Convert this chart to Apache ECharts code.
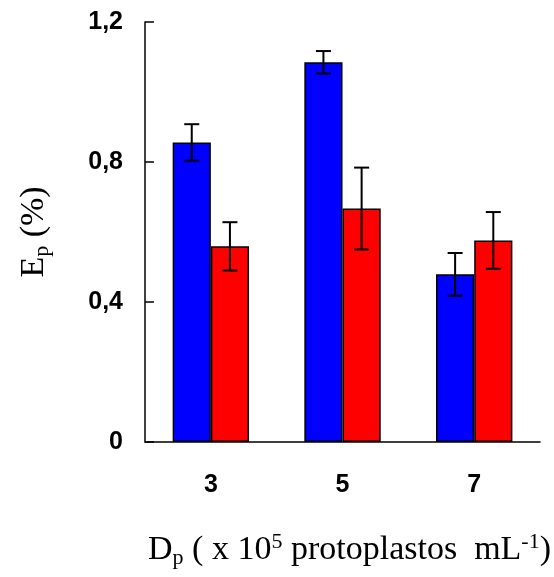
<!DOCTYPE html>
<html>
<head>
<meta charset="utf-8">
<script src="https://cdn.jsdelivr.net/npm/echarts@6/dist/echarts.min.js"></script>
<style>
html,body{margin:0;padding:0;background:#fff;}
#chart{width:554px;height:577px;}
</style>
</head>
<body>
<div id="chart"></div>
<script>
const categories = ['3', '5', '7'];
const blueMean = [0.856, 1.085, 0.479];
const blueErr = [0.052, 0.032, 0.061];
const redMean = [0.559, 0.667, 0.576];
const redErr = [0.069, 0.117, 0.081];
const yTicks = [0, 0.4, 0.8, 1.2];

const BAR_GAP = 0.42;
const barFrac = (1 - BAR_GAP) / 2;

function errData(means, errs) {
  return means.map((m, i) => [i, m - errs[i], m + errs[i]]);
}

function makeRender(sign) {
  return function (params, api) {
    const cat = api.value(0);
    const lo = api.value(1), hi = api.value(2);
    const band = api.size([1, 0])[0];
    const off = sign * band * barFrac / 2;
    const pTop = api.coord([cat, hi]);
    const pBot = api.coord([cat, lo]);
    const x = pTop[0] + off;
    const half = 7.5;
    const st = { stroke: '#000', lineWidth: 2 };
    return {
      type: 'group',
      children: [
        { type: 'line', shape: { x1: x, y1: pTop[1], x2: x, y2: pBot[1] }, style: st },
        { type: 'line', shape: { x1: x - half, y1: pTop[1], x2: x + half, y2: pTop[1] }, style: st },
        { type: 'line', shape: { x1: x - half, y1: pBot[1], x2: x + half, y2: pBot[1] }, style: st }
      ]
    };
  };
}

const chart = echarts.init(document.getElementById('chart'));
const serif = 'Liberation Serif';
const sans = 'Liberation Sans';
chart.setOption({
  animation: false,
  backgroundColor: '#fff',
  grid: { left: 145, right: 13, top: 22, bottom: 135, containLabel: false },
  xAxis: {
    type: 'category',
    data: categories,
    axisLine: { lineStyle: { color: '#000', width: 1.5 } },
    axisTick: { show: false },
    axisLabel: { color: '#000', fontFamily: sans, fontWeight: 'bold', fontSize: 25, margin: 31 },
    name: '{n|D}{sub|p}{n| ( x 10}{sup|5}{n| protoplastos  mL}{sup|-1}{n|)}',
    nameLocation: 'middle',
    nameGap: 89,
    nameTextStyle: {
      padding: [0, 0, 0, 14],
      rich: {
        n: { fontFamily: serif, fontSize: 34, color: '#000' },
        sub: { fontFamily: serif, fontSize: 22, color: '#000', padding: [16, 0, 0, 0] },
        sup: { fontFamily: serif, fontSize: 22, color: '#000', padding: [0, 0, 16, 0] }
      }
    }
  },
  yAxis: {
    type: 'value',
    min: 0,
    max: 1.2,
    interval: 0.4,
    splitLine: { show: false },
    axisLine: { show: true, lineStyle: { color: '#000', width: 1.5 } },
    axisTick: { show: true, inside: true, length: 9, lineStyle: { color: '#000', width: 1.5 } },
    axisLabel: {
      color: '#000', fontFamily: sans, fontWeight: 'bold', fontSize: 25, margin: 22,
      formatter: v => yTicks.includes(Math.round(v * 10) / 10) ? (v === 0 ? '0' : v.toFixed(1).replace('.', ',')) : ''
    },
    name: '{n|E}{sub|p}{n| (%)}',
    nameLocation: 'middle',
    nameGap: 92,
    nameTextStyle: {
      rich: {
        n: { fontFamily: serif, fontSize: 34, color: '#000' },
        sub: { fontFamily: serif, fontSize: 22, color: '#000', padding: [16, 0, 0, 0] }
      }
    }
  },
  series: [
    {
      type: 'bar', data: blueMean, barGap: '0%', barCategoryGap: (BAR_GAP * 100) + '%',
      itemStyle: { color: '#0000FF', borderColor: '#000', borderWidth: 1.5 }
    },
    {
      type: 'bar', data: redMean, barGap: '0%', barCategoryGap: (BAR_GAP * 100) + '%',
      itemStyle: { color: '#FF0000', borderColor: '#000', borderWidth: 1.5 }
    },
    {
      type: 'custom', data: errData(blueMean, blueErr), renderItem: makeRender(-1), z: 10,
      encode: { x: 0, y: [1, 2] }
    },
    {
      type: 'custom', data: errData(redMean, redErr), renderItem: makeRender(1), z: 10,
      encode: { x: 0, y: [1, 2] }
    }
  ]
});
</script>
</body>
</html>
